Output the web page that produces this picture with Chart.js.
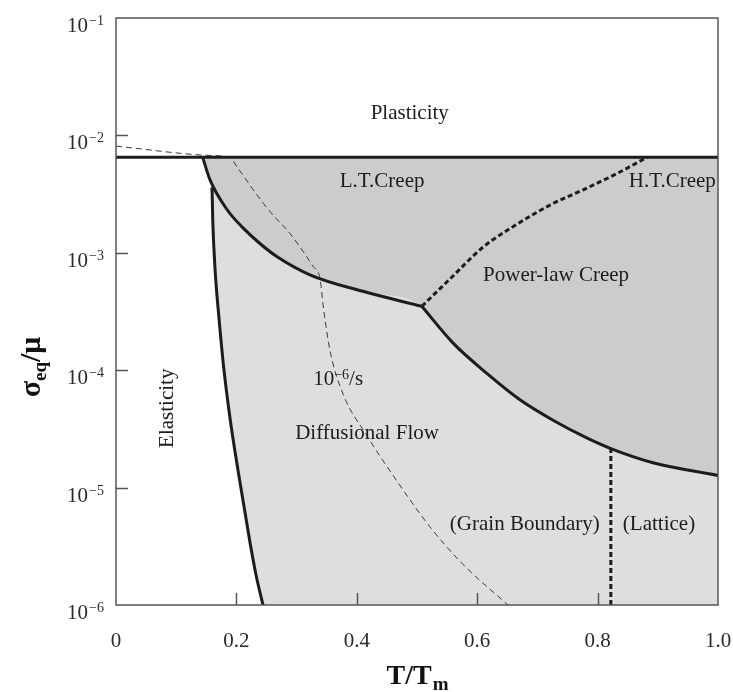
<!DOCTYPE html>
<html>
<head>
<meta charset="utf-8">
<title>Deformation mechanism map</title>
<script src="https://cdn.jsdelivr.net/npm/chart.js@4.4.1/dist/chart.umd.min.js"></script>
<style>
html,body{margin:0;padding:0;background:#ffffff;overflow:hidden;}
canvas{display:block;}
</style>
</head>
<body>
<canvas id="map" width="733" height="692"></canvas>
<script>
// ---------------- data (T/Tm , sigma_eq/mu) ----------------
const X_TICKS = [0, 0.2, 0.4, 0.6, 0.8, 1.0];
const X_TICK_LABELS = ['0', '0.2', '0.4', '0.6', '0.8', '1.0'];
const Y_TICKS = [1e-6, 1e-5, 1e-4, 1e-3, 1e-2, 1e-1];
const Y_TICK_EXPONENTS = ['\u22126', '\u22125', '\u22124', '\u22123', '\u22122', '\u22121'];

// plasticity limit (horizontal boundary)
const PLASTIC_LIMIT = 6.5e-3;

// lower edge of low-temperature creep field
const LT_T = [0.144, 0.156, 0.184, 0.211, 0.239, 0.267, 0.322, 0.410, 0.508];
const LT_S = [6.5e-3, 4.2e-3, 2.35e-3, 1.63e-3, 1.2e-3, 9.3e-4, 6.5e-4, 4.7e-4, 3.5e-4];

// power-law creep / diffusional flow boundary
const PL_T = [0.508, 0.560, 0.616, 0.671, 0.726, 0.782, 0.822, 0.892, 1.0];
const PL_S = [3.5e-4, 1.7e-4, 9.4e-5, 5.6e-5, 3.75e-5, 2.65e-5, 2.15e-5, 1.63e-5, 1.27e-5];

// L.T. creep / H.T. creep dashed boundary
const HT_T = [0.508, 0.555, 0.610, 0.666, 0.721, 0.776, 0.832, 0.882];
const HT_S = [3.5e-4, 6.0e-4, 1.12e-3, 1.75e-3, 2.55e-3, 3.44e-3, 4.73e-3, 6.5e-3];

// elasticity boundary
const EL_T = [0.1595, 0.1608, 0.1645, 0.171, 0.1785, 0.1894, 0.2027, 0.2226, 0.2326, 0.2442];
const EL_S = [3.6e-3, 1.85e-3, 7.3e-4, 2.8e-4, 1.1e-4, 3.9e-5, 1.4e-5, 3.4e-6, 1.8e-6, 1e-6];

// grain boundary / lattice diffusion boundary
const LATTICE_T = [0.822, 0.822];
const LATTICE_S = [1e-6, 2.15e-5];

// strain-rate contour 10^-6 /s
const RATE_T = [0, 0.156, 0.189, 0.201, 0.228, 0.256, 0.289, 0.327, 0.339, 0.344, 0.355, 0.377, 0.417, 0.455, 0.522, 0.576, 0.651];
const RATE_S = [8.1e-3, 6.75e-3, 6.5e-3, 5.4e-3, 3.44e-3, 2.24e-3, 1.46e-3, 7.7e-4, 6.0e-4, 3.6e-4, 1.51e-4, 6.3e-5, 2.76e-5, 1.39e-5, 4.6e-6, 2.23e-6, 1e-6];

// field labels and their anchor (data coordinates)
const REGION_NAMES = ['Plasticity', 'L.T.Creep', 'H.T.Creep', 'Power-law Creep', 'Diffusional Flow', '(Grain Boundary)', '(Lattice)'];
const REGION_T = [0.488, 0.442, 0.924, 0.731, 0.417, 0.679, 0.902];
const REGION_S = [1.55e-2, 4.07e-3, 4.07e-3, 6.36e-4, 2.88e-5, 4.88e-6, 4.88e-6];
const ELASTIC_NAME = 'Elasticity';
const ELASTIC_T = 0.085, ELASTIC_S = 4.74e-5;
const RATE_NAME = ['10', '\u22126', '/s'];
const RATE_LABEL_T = 0.369, RATE_LABEL_S = 8.65e-5;

// ---------------- styling ----------------
const FONT = '"Liberation Serif", "Times New Roman", serif';
const INK = '#1c1c1c';
const FRAME = '#555555';
const DARK_FILL = '#cccccc';
const LIGHT_FILL = '#dedede';

function pts(tArr, sArr) { return tArr.map((t, i) => ({ x: t, y: sArr[i] })); }

const creepEdge = pts(LT_T, LT_S).concat(pts(PL_T.slice(1), PL_S.slice(1)));
const diffusionFloor = pts(EL_T, EL_S).concat([{ x: 1, y: Y_TICKS[0] }]);
const plasticLine = [{ x: 0, y: PLASTIC_LIMIT }, { x: 1, y: PLASTIC_LIMIT }];

const base = { showLine: true, pointRadius: 0, pointHoverRadius: 0, fill: false, cubicInterpolationMode: 'monotone' };

const datasets = [
  Object.assign({}, base, { label: 'plasticity limit', data: plasticLine, borderColor: INK, borderWidth: 3, cubicInterpolationMode: 'default', tension: 0 }),
  Object.assign({}, base, { label: 'creep field', data: creepEdge, borderWidth: 0, borderColor: 'rgba(0,0,0,0)', backgroundColor: DARK_FILL, fill: 0 }),
  Object.assign({}, base, { label: 'diffusion field', data: diffusionFloor, borderWidth: 0, borderColor: 'rgba(0,0,0,0)', backgroundColor: LIGHT_FILL, fill: 1 }),
  Object.assign({}, base, { label: 'strain rate', data: pts(RATE_T, RATE_S), borderColor: '#3a3a3a', borderWidth: 1, borderDash: [6, 4] }),
  Object.assign({}, base, { label: 'LT creep', data: pts(LT_T, LT_S), borderColor: INK, borderWidth: 3 }),
  Object.assign({}, base, { label: 'PL creep', data: pts(PL_T, PL_S), borderColor: INK, borderWidth: 3 }),
  Object.assign({}, base, { label: 'HT creep', data: pts(HT_T, HT_S), borderColor: INK, borderWidth: 3, borderDash: [5, 3] }),
  Object.assign({}, base, { label: 'elasticity', data: pts(EL_T, EL_S), borderColor: INK, borderWidth: 3 }),
  Object.assign({}, base, { label: 'lattice', data: pts(LATTICE_T, LATTICE_S), borderColor: INK, borderWidth: 3, borderDash: [5, 3], cubicInterpolationMode: 'default', tension: 0 })
];

const decor = {
  id: 'decor',
  afterDatasetsDraw(chart) {
    const { ctx, chartArea: a, scales: { x, y } } = chart;
    ctx.save();
    // frame
    ctx.strokeStyle = FRAME;
    ctx.lineWidth = 1.5;
    ctx.strokeRect(a.left, a.top, a.right - a.left, a.bottom - a.top);
    // inward tick marks
    ctx.beginPath();
    X_TICKS.forEach(v => {
      if (v > X_TICKS[0] && v < X_TICKS[X_TICKS.length - 1]) {
        const px = Math.round(x.getPixelForValue(v)) + 0.5;
        ctx.moveTo(px, a.bottom);
        ctx.lineTo(px, a.bottom - 12);
      }
    });
    Y_TICKS.forEach(v => {
      if (v > Y_TICKS[0] && v < Y_TICKS[Y_TICKS.length - 1]) {
        const py = Math.round(y.getPixelForValue(v)) + 0.5;
        ctx.moveTo(a.left, py);
        ctx.lineTo(a.left + 12, py);
      }
    });
    ctx.stroke();

    // field labels
    ctx.fillStyle = INK;
    ctx.font = '21px ' + FONT;
    ctx.textAlign = 'center';
    ctx.textBaseline = 'middle';
    REGION_NAMES.forEach((name, i) => {
      ctx.fillText(name, x.getPixelForValue(REGION_T[i]), y.getPixelForValue(REGION_S[i]));
    });
    // rotated elasticity label
    ctx.save();
    ctx.translate(x.getPixelForValue(ELASTIC_T), y.getPixelForValue(ELASTIC_S));
    ctx.rotate(-Math.PI / 2);
    ctx.fillText(ELASTIC_NAME, 0, 0);
    ctx.restore();

    // strain-rate label 10^-6/s
    const cx = x.getPixelForValue(RATE_LABEL_T), cy = y.getPixelForValue(RATE_LABEL_S);
    ctx.textAlign = 'left';
    ctx.textBaseline = 'alphabetic';
    ctx.font = '21px ' + FONT;
    const w1 = ctx.measureText(RATE_NAME[0]).width;
    const w3 = ctx.measureText(RATE_NAME[2]).width;
    ctx.font = '14px ' + FONT;
    const w2 = ctx.measureText(RATE_NAME[1]).width;
    const sx = cx - (w1 + w2 + w3) / 2;
    const bl = cy + 7;
    ctx.font = '21px ' + FONT;
    ctx.fillText(RATE_NAME[0], sx, bl);
    ctx.font = '14px ' + FONT;
    ctx.fillText(RATE_NAME[1], sx + w1, bl - 6);
    ctx.font = '21px ' + FONT;
    ctx.fillText(RATE_NAME[2], sx + w1 + w2, bl);
    ctx.restore();
  },
  afterDraw(chart) {
    const { ctx, chartArea: a, scales: { y } } = chart;
    ctx.save();
    ctx.fillStyle = '#2a2a2a';
    ctx.textBaseline = 'alphabetic';
    ctx.textAlign = 'left';
    // y tick labels 10^n
    Y_TICKS.forEach((v, i) => {
      const py = y.getPixelForValue(v);
      ctx.font = '14px ' + FONT;
      const wSup = ctx.measureText(Y_TICK_EXPONENTS[i]).width;
      ctx.font = '21px ' + FONT;
      const wMain = ctx.measureText('10').width;
      const right = a.left - 12;
      ctx.fillText('10', right - wSup - wMain - 1, py + 14);
      ctx.font = '14px ' + FONT;
      ctx.fillText(Y_TICK_EXPONENTS[i], right - wSup, py + 7);
    });

    // x title T/T_m
    ctx.fillStyle = '#111';
    ctx.font = 'bold 28px ' + FONT;
    const t1 = 'T/T', t2 = 'm';
    const wa = ctx.measureText(t1).width;
    ctx.font = 'bold 19px ' + FONT;
    const wb = ctx.measureText(t2).width;
    const mid = (a.left + a.right) / 2;
    const tx = mid - (wa + wb) / 2;
    ctx.font = 'bold 28px ' + FONT;
    ctx.fillText(t1, tx, 684);
    ctx.font = 'bold 19px ' + FONT;
    ctx.fillText(t2, tx + wa + 1, 690);

    // y title sigma_eq / mu
    ctx.save();
    ctx.translate(40, 367);
    ctx.rotate(-Math.PI / 2);
    ctx.font = 'bold 30px ' + FONT;
    const s1 = '\u03c3', s3 = '/\u03bc';
    const w1 = ctx.measureText(s1).width;
    const w3 = ctx.measureText(s3).width;
    ctx.font = 'bold 19px ' + FONT;
    const s2 = 'eq';
    const w2 = ctx.measureText(s2).width;
    const ox = -(w1 + w2 + w3) / 2;
    ctx.font = 'bold 30px ' + FONT;
    ctx.fillText(s1, ox, 0);
    ctx.font = 'bold 19px ' + FONT;
    ctx.fillText(s2, ox + w1, 6);
    ctx.font = 'bold 30px ' + FONT;
    ctx.fillText(s3, ox + w1 + w2, 0);
    ctx.restore();
    ctx.restore();
  }
};

new Chart(document.getElementById('map'), {
  type: 'scatter',
  data: { datasets },
  options: {
    responsive: false,
    devicePixelRatio: 1,
    animation: false,
    events: [],
    layout: { padding: { top: 18, right: 0, left: 0, bottom: 0 } },
    plugins: {
      legend: { display: false },
      tooltip: { enabled: false },
      filler: { drawTime: 'beforeDatasetsDraw' }
    },
    scales: {
      x: {
        type: 'linear', min: 0, max: 1,
        afterBuildTicks: s => { s.ticks = X_TICKS.map(v => ({ value: v })); },
        afterFit: s => { s.height = 87; s.paddingRight = 15; },
        grid: { display: false, drawTicks: false },
        border: { display: false },
        ticks: {
          padding: 24,
          color: '#2a2a2a',
          font: { family: FONT, size: 21 },
          maxRotation: 0,
          autoSkip: false,
          callback: (v, i) => X_TICK_LABELS[i]
        }
      },
      y: {
        type: 'logarithmic', min: Y_TICKS[0], max: Y_TICKS[Y_TICKS.length - 1],
        afterBuildTicks: s => { s.ticks = Y_TICKS.map(v => ({ value: v })); },
        afterFit: s => { s.width = 116; },
        grid: { display: false, drawTicks: false },
        border: { display: false },
        ticks: { display: false }
      }
    }
  },
  plugins: [decor]
});
</script>
</body>
</html>
